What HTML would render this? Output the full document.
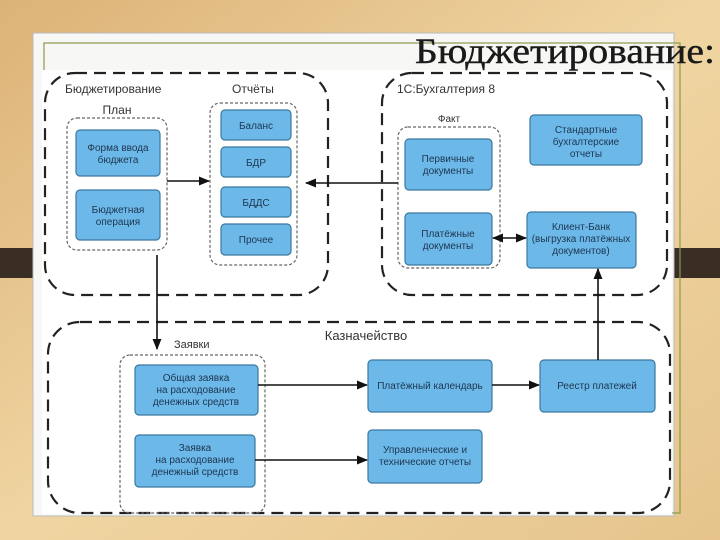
<!DOCTYPE html>
<html><head><meta charset="utf-8"><style>
body{margin:0;width:720px;height:540px;overflow:hidden;background:#e9c992;}
svg{position:absolute;left:0;top:0}
</style></head><body>
<svg width="720" height="540" viewBox="0 0 720 540" font-family="Liberation Sans, sans-serif">
<defs>
<linearGradient id="bg" x1="0" y1="0" x2="1" y2="1"><stop offset="0" stop-color="#dcb277"/><stop offset="0.5" stop-color="#f0d5a2"/><stop offset="1" stop-color="#e6c48c"/></linearGradient>
<marker id="a" viewBox="0 0 10 10" refX="9" refY="5" markerWidth="7" markerHeight="7" orient="auto-start-reverse"><path d="M0,1 L10,5 L0,9 z" fill="#111"/></marker>
</defs>
<rect width="720" height="540" fill="url(#bg)"/>
<rect x="0" y="248" width="720" height="30" fill="#3a2e24"/>
<rect x="33" y="33" width="641" height="483" fill="#f7f7f5" stroke="#bbb"/>
<rect x="44" y="43" width="636" height="470" fill="none" stroke="#8a9a50" stroke-width="1.2"/>
<rect x="42" y="70" width="630" height="444" fill="#fff"/>
<text x="415" y="63" font-family="Liberation Serif, serif" font-size="36" textLength="300" lengthAdjust="spacingAndGlyphs" fill="#1a1a1a" stroke="#1a1a1a" stroke-width="0.4">Бюджетирование:</text>
<g fill="none" stroke="#222" stroke-width="2.2" stroke-dasharray="12 7">
<rect x="45" y="73" width="283" height="222" rx="30"/>
<rect x="382" y="73" width="285" height="222" rx="30"/>
<rect x="48" y="322" width="622" height="191" rx="32"/>
</g>
<g fill="none" stroke="#666" stroke-width="1.2" stroke-dasharray="3 2">
<rect x="67" y="118" width="100" height="132" rx="10"/>
<rect x="210" y="103" width="87" height="162" rx="10"/>
<rect x="398" y="127" width="102" height="141" rx="10"/>
<rect x="120" y="355" width="145" height="158" rx="10"/>
</g>
<g fill="#6cb9e9" stroke="#3a78a0" stroke-width="1.2">
<rect x="76" y="130" width="84" height="46" rx="4"/>
<rect x="76" y="190" width="84" height="50" rx="4"/>
<rect x="221" y="110" width="70" height="30" rx="4"/>
<rect x="221" y="147" width="70" height="30" rx="4"/>
<rect x="221" y="187" width="70" height="30" rx="4"/>
<rect x="221" y="224" width="70" height="31" rx="4"/>
<rect x="405" y="139" width="87" height="51" rx="4"/>
<rect x="405" y="213" width="87" height="52" rx="4"/>
<rect x="530" y="115" width="112" height="50" rx="4"/>
<rect x="527" y="212" width="109" height="56" rx="4"/>
<rect x="135" y="365" width="123" height="50" rx="4"/>
<rect x="135" y="435" width="120" height="52" rx="4"/>
<rect x="368" y="360" width="124" height="52" rx="4"/>
<rect x="540" y="360" width="115" height="52" rx="4"/>
<rect x="368" y="430" width="114" height="53" rx="4"/>
</g>
<g stroke="#111" stroke-width="1.6" fill="none">
<line x1="167" y1="181" x2="209" y2="181" marker-end="url(#a)"/>
<line x1="398" y1="183" x2="306" y2="183" marker-end="url(#a)"/>
<line x1="493" y1="238" x2="526" y2="238" marker-start="url(#a)" marker-end="url(#a)"/>
<line x1="157" y1="255" x2="157" y2="349" marker-end="url(#a)"/>
<line x1="598" y1="360" x2="598" y2="269" marker-end="url(#a)"/>
<line x1="258" y1="385" x2="367" y2="385" marker-end="url(#a)"/>
<line x1="492" y1="385" x2="539" y2="385" marker-end="url(#a)"/>
<line x1="255" y1="460" x2="367" y2="460" marker-end="url(#a)"/>
</g>
<g font-size="12" fill="#333">
<text x="65" y="93">Бюджетирование</text>
<text x="232" y="93">Отчёты</text>
<text x="397" y="93">1С:Бухгалтерия 8</text>
<text x="117" y="114" text-anchor="middle">План</text>
<text x="449" y="122" text-anchor="middle" font-size="10">Факт</text>
<text x="174" y="348" font-size="11">Заявки</text>
<text x="366" y="340" text-anchor="middle" font-size="13">Казначейство</text>
</g>
<g font-size="10" fill="#1d3550" text-anchor="middle">
<text x="118" y="151">Форма ввода</text><text x="118" y="163">бюджета</text>
<text x="118" y="213">Бюджетная</text><text x="118" y="225">операция</text>
<text x="256" y="129">Баланс</text>
<text x="256" y="166">БДР</text>
<text x="256" y="206">БДДС</text>
<text x="256" y="243">Прочее</text>
<text x="448" y="162">Первичные</text><text x="448" y="174">документы</text>
<text x="448" y="237">Платёжные</text><text x="448" y="249">документы</text>
<text x="586" y="133">Стандартные</text><text x="586" y="145">бухгалтерские</text><text x="586" y="157">отчеты</text>
<text x="581" y="230">Клиент-Банк</text><text x="581" y="242">(выгрузка платёжных</text><text x="581" y="254">документов)</text>
<text x="196" y="381">Общая заявка</text><text x="196" y="393">на расходование</text><text x="196" y="405">денежных средств</text>
<text x="195" y="451">Заявка</text><text x="195" y="463">на расходование</text><text x="195" y="475">денежный средств</text>
<text x="430" y="389">Платёжный календарь</text>
<text x="597" y="389">Реестр платежей</text>
<text x="425" y="453">Управленческие и</text><text x="425" y="465">технические отчеты</text>
</g>
</svg>
</body></html>
